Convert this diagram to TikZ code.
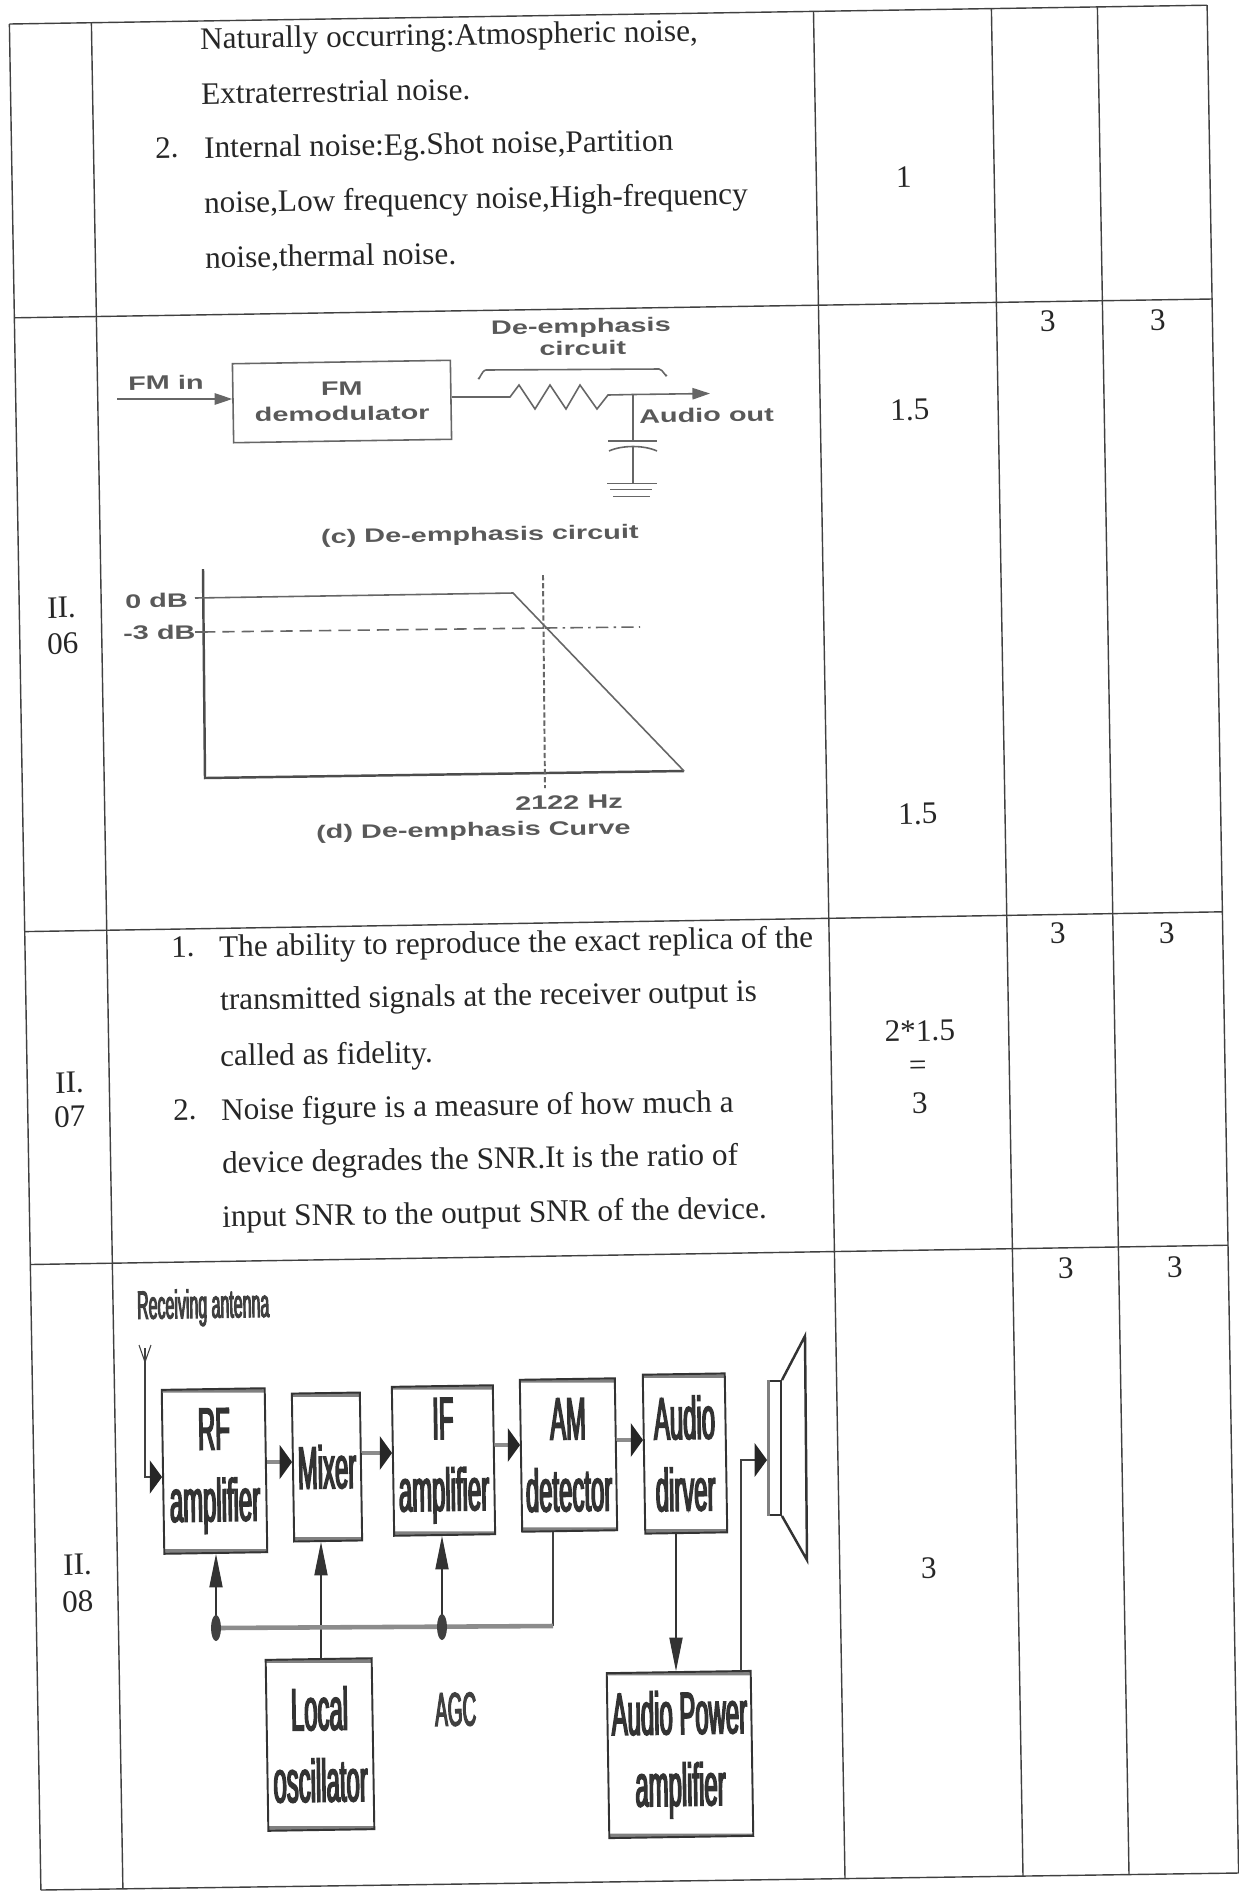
\documentclass[tikz,border=0pt]{standalone}
\usepackage{fontspec}
\setmainfont{Liberation Serif}
\newfontfamily\fmfont[FakeStretch=1.48]{Liberation Sans}
\newfontfamily\blkfont[FakeStretch=0.4,FakeBold=2.5]{Liberation Sans}
\usetikzlibrary{arrows.meta,%
                positioning}

\tikzset{
  grid/.style={draw=black!75, line width=0.8pt},
  body/.style={anchor=base west, inner sep=0pt, rotate=0.9, text=black!85,
    font=\fontsize{17.8}{22}\selectfont},
  score/.style={body, anchor=base},
  fmtxt/.style={inner sep=0pt, rotate=0.9, text=black!65,
    font=\fmfont\bfseries\fontsize{11.1}{14.2}\selectfont},
  fmbox/.style={fmtxt, draw=black!60, line width=0.9pt, align=center},
  fmline/.style={draw=black!60, line width=0.9pt},
  fmarrow/.style={fmline, -{Triangle[length=10pt,width=6.5pt]}},
  axis/.style={draw=black!70, line width=1.4pt},
  blk/.style={draw=black!80, line width=1.1pt, align=center, inner sep=0pt, rotate=0.9,
    text=black!80, font=\blkfont\fontsize{34}{40.8}\selectfont,
    path picture={
      \draw[black!50, line width=5pt] (path picture bounding box.north west) -- (path picture bounding box.north east);
      \draw[black!50, line width=5pt] (path picture bounding box.south west) -- (path picture bounding box.south east);
    }},
  blktxt/.style={anchor=base west, inner sep=0pt, rotate=0.9, text=black!75, font=\blkfont},
  harrow/.style={draw=black!45, line width=2.4pt, -{Triangle[length=7pt,width=19pt,color=black!85]}},
  varrow/.style={draw=black!80, line width=0.7pt, -{Triangle[length=19pt,width=7.5pt]}},
  bus/.style={draw=black!45, line width=2.6pt},
}

\begin{document}
\begin{tikzpicture}[x=0.02cm,y=-0.02cm]
\useasboundingbox (0,0) rectangle (1239,1891);
\fill[white] (0,0) rectangle (1239,1891);

% table grid
\draw[grid] (9.4,24) -- (1207.1,5.2);
\draw[grid] (14.4,317.8) -- (1212,299);
\draw[grid] (24.7,931.6) -- (1222.4,911.8);
\draw[grid] (30.4,1264.5) -- (1228,1245.2);
\draw[grid] (40.9,1890) -- (1238.6,1873);
\draw[grid] (9.4,24) -- (40.9,1890);
\draw[grid] (91.4,22.6) -- (122.9,1888.8);
\draw[grid] (813.5,11.3) -- (845,1878.6);
\draw[grid] (991.4,8.5) -- (1023,1876);
\draw[grid] (1097.4,6.9) -- (1129,1874.5);
\draw[grid] (1207.1,5.2) -- (1238.6,1873);

% row 1
\node[body] (na1) at (200,49) {Naturally occurring:Atmospheric noise,};
\node[body] (na2) at (201,104) {Extraterrestrial noise.};
\node[body] (in0) at (155,158) {2.};
\node[body] (in1) at (204,158) {Internal noise:Eg.Shot noise,Partition};
\node[body] (in2) at (204,213) {noise,Low frequency noise,High-frequency};
\node[body] (in3) at (205,268) {noise,thermal noise.};
\node[score] (s1) at (904,187) {1};

% row 2: labels and marks
\node[body] (q6a) at (47,618) {II.};
\node[body] (q6b) at (47,654) {06};
\node[score] (s6a) at (910,420) {1.5};
\node[score] (s6b) at (918,824) {1.5};
\node[score] (s6c) at (1048,331) {3};
\node[score] (s6d) at (1158,330) {3};

% de-emphasis circuit
\node[fmtxt, anchor=base west] (fmin) at (128,390) {FM in};
\coordinate (fmsrc) at (117,399);
\node[fmbox, minimum width=4.36cm, minimum height=1.58cm] (demod) at (342,401.5) {FM\\demodulator};
\draw[fmarrow] (fmsrc) -- (demod.west |- fmsrc);
\coordinate (ra) at (510,397);
\coordinate (rb) at (608,395);
\coordinate (jn) at (633,394.5);
\coordinate (aout) at (710,393.5);
\draw[fmline] (demod.east |- ra) -- (ra) -- (519,385) -- (535,409) -- (550,385) -- (566,409)
  -- (580,385) -- (597,409) -- (rb) -- (jn);
\draw[fmarrow] (jn) -- (aout);
\draw[fmline] (jn) -- (633,441);
\draw[fmline] (608,441) -- (657,441);
\draw[fmline] (609,451) .. controls (622,445) and (644,445) .. (657,451);
\draw[fmline] (633,446) -- (633,483.5);
\draw[fmline] (607,483.5) -- (657,483.5);
\draw[fmline] (610,489.5) -- (652,489.5);
\draw[fmline] (613,496.6) -- (650,496.6);
\draw[fmline] (478,378) to[out=-80,in=180] (486,370) -- (659,369) to[out=0,in=-100] (667,375);
\node[fmtxt, anchor=base] (dea) at (581,333) {De-emphasis};
\node[fmtxt, anchor=base] (deb) at (583,355) {circuit};
\node[fmtxt, anchor=base west] (aud) at (639,423) {Audio out};
\node[fmtxt, anchor=base] (capc) at (480,541) {(c) De-emphasis circuit};

% de-emphasis curve
\draw[axis] (203,569) -- (205,778) -- (684,771);
\draw[fmline] (195,598) -- (513,593) -- (684,771);
\draw[fmline] (195,632) -- (203,632);
\draw[fmline, dash pattern=on 7pt off 4pt] (203,632) -- (545,628);
\draw[fmline, dash pattern=on 7pt off 3pt on 1.5pt off 3pt] (545,628) -- (640,627);
\draw[fmline, line width=1.1pt, dash pattern=on 3pt off 1.6pt] (543,575) -- (545,788);
\node[fmtxt, anchor=base west] (db0) at (125,608) {0 dB};
\node[fmtxt, anchor=base west] (db3) at (123,640) {-3 dB};
\node[fmtxt, anchor=base west] (fc) at (515,810) {2122 Hz};
\node[fmtxt, anchor=base west] (capd) at (316,839) {(d) De-emphasis Curve};

% row 3
\node[body] (q7a) at (55,1093) {II.};
\node[body] (q7b) at (54,1127) {07};
\node[body] (fi0) at (171,957) {1.};
\node[body] (fi1) at (219,957) {The ability to reproduce the exact replica of the};
\node[body] (fi2) at (220,1010) {transmitted signals at the receiver output is};
\node[body] (fi3) at (220,1066) {called as fidelity.};
\node[body] (nf0) at (173,1120) {2.};
\node[body] (nf1) at (221,1120) {Noise figure is a measure of how much a};
\node[body] (nf2) at (222,1173) {device degrades the SNR.It is the ratio of};
\node[body] (nf3) at (222,1227) {input SNR to the output SNR of the device.};
\node[score] (s7a) at (920,1041) {2*1.5};
\node[score] (s7b) at (918,1075) {=};
\node[score] (s7c) at (920,1113) {3};
\node[score] (s7d) at (1058,943) {3};
\node[score] (s7e) at (1167,943) {3};

% row 4
\node[body] (q8a) at (63,1575) {II.};
\node[body] (q8b) at (62,1612) {08};
\node[score] (s8a) at (929,1578) {3};
\node[score] (s8b) at (1066,1278) {3};
\node[score] (s8c) at (1175,1277) {3};

% AM receiver
\node[blktxt, font=\blkfont\fontsize{22.7}{27}\selectfont] (rxant) at (137,1319) {Receiving antenna};
\node[blk, minimum width=2.06cm, minimum height=3.28cm] (rf) at (214.5,1471) {RF\\amplifier};
\node[blk, minimum width=1.36cm, minimum height=2.96cm] (mix) at (327,1467) {Mixer};
\node[blk, minimum width=2.02cm, minimum height=2.98cm] (ifa) at (443.5,1460.5) {IF\\amplifier};
\node[blk, minimum width=1.90cm, minimum height=3.04cm] (amd) at (568.5,1455) {AM\\detector};
\node[blk, minimum width=1.64cm, minimum height=3.18cm] (adr) at (685,1453.5) {Audio\\dirver};
\node[blk, minimum width=2.12cm, minimum height=3.42cm] (lo) at (320,1744.5) {Local\\oscillator};
\node[blk, minimum width=2.88cm, minimum height=3.30cm] (apa) at (680,1754.5) {Audio Power\\amplifier};
\node[blktxt, font=\blkfont\fontsize{27}{30}\selectfont] (agc) at (435,1726) {AGC};
\node[draw=black!80, line width=1.1pt, minimum width=0.26cm, minimum height=2.68cm, inner sep=0pt] (spk) at (774.5,1448) {};
\draw[black!50, line width=2.2pt] ([xshift=0.03cm]spk.north west) -- ([xshift=0.03cm]spk.south west);
\draw[black!80, line width=1.4pt] (spk.north east) -- (805,1336) -- (807,1560) -- (spk.south east);

\coordinate (ant) at (145,1362);
\draw[black!75, line width=0.6pt] (139,1345) -- (ant) -- (151,1345);
\draw[black!75, line width=0.6pt] (145,1348) -- (ant);
\draw[harrow, draw=black!75, line width=0.6pt] (ant) |- (rf.west |- 0,1477);
\draw[harrow] (rf.east |- 0,1462) -- (mix.west |- 0,1462);
\draw[harrow] (mix.east |- 0,1453) -- (ifa.west |- 0,1453);
\draw[harrow] (ifa.east |- 0,1445) -- (amd.west |- 0,1445);
\draw[harrow] (amd.east |- 0,1440) -- (adr.west |- 0,1440);
\draw[harrow, line width=0.8pt, draw=black!75] (apa.north -| 741,0) |- (spk.west |- 0,1460);
\draw[varrow] (adr.south -| 676,0) -- (apa.north -| 676,0);
\draw[varrow] (lo.north -| 321,0) -- (mix.south -| 321,0);

\coordinate (busl) at (216,1628);
\coordinate (busm) at (442,1627);
\coordinate (busr) at (553,1626);
\draw[black!75, line width=0.7pt] (amd.south -| busr) -- (busr);
\draw[bus] (busr) -- (busl);
\draw[varrow] (busl) -- (rf.south -| busl);
\draw[varrow] (busm) -- (ifa.south -| busm);
\fill[black!75] (busl) ellipse [x radius=5, y radius=13];
\fill[black!75] (busm) ellipse [x radius=5, y radius=13];
\end{tikzpicture}
\end{document}
